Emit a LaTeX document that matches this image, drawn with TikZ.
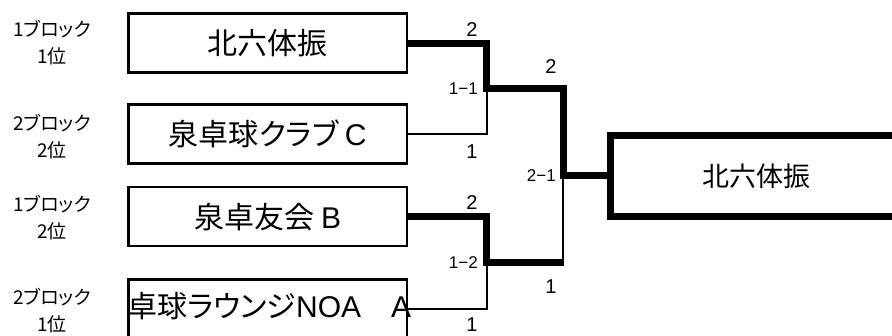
\documentclass[tikz,border=0pt]{standalone}
\usepackage{fontspec}
\setmainfont{Noto Sans CJK JP}[RawFeature={+palt}]
\newfontfamily\lat{Liberation Sans}
\tikzset{
  team/.style={draw, line width=2.5pt, minimum width=278.5pt, minimum height=59pt, inner sep=0pt, font=\fontsize{30}{36}\selectfont},
  champbox/.style={draw, line width=7pt, minimum width=292pt, minimum height=81pt, inner sep=0pt, font=\fontsize{27}{32}\selectfont},
  win/.style={line width=7pt, line join=miter},
  lose/.style={line width=2pt},
  blk/.style={align=center, font=\fontsize{19}{27}\selectfont, inner sep=0pt},
  score/.style={font=\lat\fontsize{20}{24}\selectfont, inner sep=0pt},
  match/.style={font=\lat\fontsize{17}{20}\selectfont, inner sep=0pt, anchor=east},
  overtext/.style={anchor=west, inner sep=0pt, font=\fontsize{30}{36}\selectfont},
}
\begin{document}
\begin{tikzpicture}[x=1pt,y=-1pt]
\path[use as bounding box] (0,0) rectangle (892,336);
\clip (0,0) rectangle (892,336);
% block labels
\node[blk] (b1) at (52,43) {1ブロック\\1位};
\node[blk] (b2) at (52,137) {2ブロック\\2位};
\node[blk] (b3) at (52,218) {1ブロック\\2位};
\node[blk] (b4) at (52,310.5) {2ブロック\\1位};
% team boxes
\node[team] (t1) at (267.75,43.25) {北六体振};
\node[team] (t2) at (267.75,134.2) {泉卓球クラブ {\lat C}};
\node[team] (t3) at (267.75,216.7) {泉卓友会 {\lat B}};
\node[overtext] (t4t) at (127,306) {卓球ラウンジ{\lat NOA}　{\lat A}};
\node[team] (t4) at (267.75,309.2) {};
% champion
\node[champbox] (ch) at (756,176) {北六体振};
% joints
\coordinate (m1) at (486.5,89);
\coordinate (m2) at (486.5,263);
\coordinate (fa) at (563,89);
\coordinate (fb) at (563,263);
% losers
\draw[lose] (t2.east) -| (m1);
\draw[lose] (t4.east) -| (m2);
\draw[lose] (fb) -- (fa |- ch.west);
% winners
\draw[win] (t1.east) -| (m1) -- (fa) |- (ch.west);
\draw[win] (t3.east) -| (m2) -- ([xshift=1pt]fb);
% scores
\node[score] (a1) at (472,30) {2};
\node[score] (a2) at (472,152) {1};
\node[match] (a3) at (478,89) {1−1};
\node[score] (a4) at (551,67) {2};
\node[score] (a5) at (551,287) {1};
\node[match] (a6) at (556,176) {2−1};
\node[score] (a7) at (472,203) {2};
\node[score] (a8) at (472,325) {1};
\node[match] (a9) at (478,263) {1−2};
\end{tikzpicture}
\end{document}
